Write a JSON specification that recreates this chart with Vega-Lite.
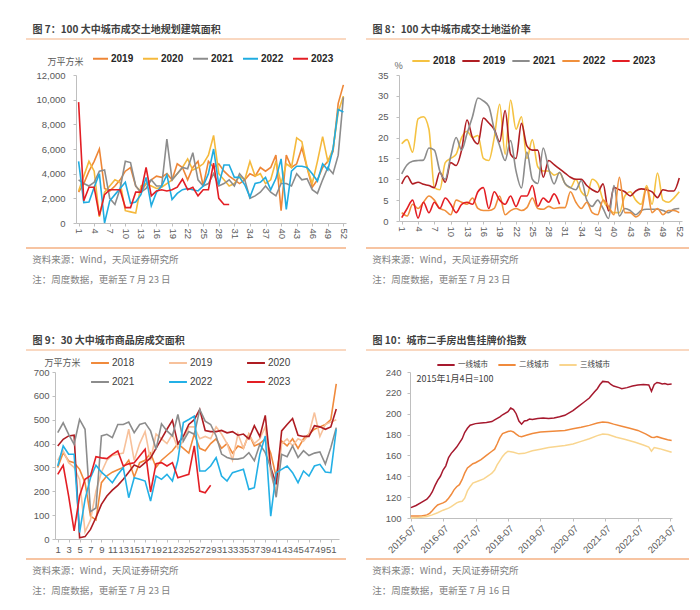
{
"$schema": "https://vega.github.io/schema/vega-lite/v6.json",
"background": "white",
"padding": {"left": 25, "top": 24, "right": 5, "bottom": 5},
"config": {
  "view": {"stroke": null},
  "font": "Liberation Sans",
  "axis": {"grid": false, "domainColor": "#BFBFBF", "tickColor": "#BFBFBF", "labelColor": "#595959", "labelFont": "Liberation Sans", "labelFontSize": 9.5, "titleFont": "Noto Sans CJK SC", "titleFontSize": 9, "titleFontWeight": "normal", "titleColor": "#595959", "tickSize": 3},
  "legend": {"padding": 0}
},
"resolve": {"scale": {"x": "independent", "y": "independent", "color": "independent"}, "axis": {"x": "independent", "y": "independent"}, "legend": {"color": "independent"}},
"datasets": {
"p1": [
{"w":1,"s":"2019","v":2500},{"w":2,"s":"2019","v":3200},{"w":3,"s":"2019","v":4200},{"w":4,"s":"2019","v":5000},{"w":5,"s":"2019","v":6000},{"w":6,"s":"2019","v":2800},{"w":7,"s":"2019","v":2600},{"w":8,"s":"2019","v":3000},{"w":9,"s":"2019","v":3500},{"w":10,"s":"2019","v":4200},
{"w":11,"s":"2019","v":4500},{"w":12,"s":"2019","v":3000},{"w":13,"s":"2019","v":2500},{"w":14,"s":"2019","v":3200},{"w":15,"s":"2019","v":3500},{"w":16,"s":"2019","v":3800},{"w":17,"s":"2019","v":3700},{"w":18,"s":"2019","v":4000},{"w":19,"s":"2019","v":3500},{"w":20,"s":"2019","v":4800},
{"w":21,"s":"2019","v":4500},{"w":22,"s":"2019","v":3500},{"w":23,"s":"2019","v":4500},{"w":24,"s":"2019","v":5000},{"w":25,"s":"2019","v":3000},{"w":26,"s":"2019","v":5000},{"w":27,"s":"2019","v":4500},{"w":28,"s":"2019","v":4800},{"w":29,"s":"2019","v":4200},{"w":30,"s":"2019","v":3800},
{"w":31,"s":"2019","v":3500},{"w":32,"s":"2019","v":3200},{"w":33,"s":"2019","v":3500},{"w":34,"s":"2019","v":4000},{"w":35,"s":"2019","v":3800},{"w":36,"s":"2019","v":4500},{"w":37,"s":"2019","v":4200},{"w":38,"s":"2019","v":4500},{"w":39,"s":"2019","v":5500},{"w":40,"s":"2019","v":1000},
{"w":41,"s":"2019","v":5500},{"w":42,"s":"2019","v":4500},{"w":43,"s":"2019","v":4800},{"w":44,"s":"2019","v":6100},{"w":45,"s":"2019","v":4500},{"w":46,"s":"2019","v":2900},{"w":47,"s":"2019","v":3500},{"w":48,"s":"2019","v":4500},{"w":49,"s":"2019","v":5000},{"w":50,"s":"2019","v":5800},
{"w":51,"s":"2019","v":9700},{"w":52,"s":"2019","v":11200},
{"w":1,"s":"2020","v":2600},{"w":2,"s":"2020","v":3800},{"w":3,"s":"2020","v":5000},{"w":4,"s":"2020","v":4200},{"w":5,"s":"2020","v":500},{"w":6,"s":"2020","v":2500},{"w":7,"s":"2020","v":3000},{"w":8,"s":"2020","v":3500},{"w":9,"s":"2020","v":3300},{"w":10,"s":"2020","v":1000},
{"w":11,"s":"2020","v":900},{"w":12,"s":"2020","v":800},{"w":13,"s":"2020","v":3000},{"w":14,"s":"2020","v":3200},{"w":15,"s":"2020","v":3000},{"w":16,"s":"2020","v":2800},{"w":17,"s":"2020","v":2900},{"w":18,"s":"2020","v":3200},{"w":19,"s":"2020","v":3500},{"w":20,"s":"2020","v":4000},
{"w":21,"s":"2020","v":4500},{"w":22,"s":"2020","v":5200},{"w":23,"s":"2020","v":4300},{"w":24,"s":"2020","v":4500},{"w":25,"s":"2020","v":4800},{"w":26,"s":"2020","v":5500},{"w":27,"s":"2020","v":7100},{"w":28,"s":"2020","v":4000},{"w":29,"s":"2020","v":3500},{"w":30,"s":"2020","v":3000},
{"w":31,"s":"2020","v":3200},{"w":32,"s":"2020","v":3800},{"w":33,"s":"2020","v":3500},{"w":34,"s":"2020","v":5000},{"w":35,"s":"2020","v":3800},{"w":36,"s":"2020","v":4000},{"w":37,"s":"2020","v":3200},{"w":38,"s":"2020","v":3500},{"w":39,"s":"2020","v":5000},{"w":40,"s":"2020","v":3200},
{"w":41,"s":"2020","v":4800},{"w":42,"s":"2020","v":4500},{"w":43,"s":"2020","v":6900},{"w":44,"s":"2020","v":6600},{"w":45,"s":"2020","v":4500},{"w":46,"s":"2020","v":3200},{"w":47,"s":"2020","v":5000},{"w":48,"s":"2020","v":7000},{"w":49,"s":"2020","v":5000},{"w":50,"s":"2020","v":6000},
{"w":51,"s":"2020","v":9000},{"w":52,"s":"2020","v":10300},
{"w":1,"s":"2021","v":3500},{"w":2,"s":"2021","v":3200},{"w":3,"s":"2021","v":3000},{"w":4,"s":"2021","v":3300},{"w":5,"s":"2021","v":4200},{"w":6,"s":"2021","v":4300},{"w":7,"s":"2021","v":2000},{"w":8,"s":"2021","v":1500},{"w":9,"s":"2021","v":2800},{"w":10,"s":"2021","v":5000},
{"w":11,"s":"2021","v":4900},{"w":12,"s":"2021","v":3000},{"w":13,"s":"2021","v":2500},{"w":14,"s":"2021","v":2800},{"w":15,"s":"2021","v":3500},{"w":16,"s":"2021","v":3000},{"w":17,"s":"2021","v":3000},{"w":18,"s":"2021","v":6800},{"w":19,"s":"2021","v":3500},{"w":20,"s":"2021","v":4000},
{"w":21,"s":"2021","v":4500},{"w":22,"s":"2021","v":4400},{"w":23,"s":"2021","v":5700},{"w":24,"s":"2021","v":3500},{"w":25,"s":"2021","v":3000},{"w":26,"s":"2021","v":3200},{"w":27,"s":"2021","v":4000},{"w":28,"s":"2021","v":3000},{"w":29,"s":"2021","v":3200},{"w":30,"s":"2021","v":3500},
{"w":31,"s":"2021","v":3000},{"w":32,"s":"2021","v":4000},{"w":33,"s":"2021","v":3500},{"w":34,"s":"2021","v":2000},{"w":35,"s":"2021","v":2200},{"w":36,"s":"2021","v":2500},{"w":37,"s":"2021","v":3000},{"w":38,"s":"2021","v":2500},{"w":39,"s":"2021","v":2200},{"w":40,"s":"2021","v":3200},
{"w":41,"s":"2021","v":3200},{"w":42,"s":"2021","v":3000},{"w":43,"s":"2021","v":4000},{"w":44,"s":"2021","v":3500},{"w":45,"s":"2021","v":3600},{"w":46,"s":"2021","v":2700},{"w":47,"s":"2021","v":2400},{"w":48,"s":"2021","v":3500},{"w":49,"s":"2021","v":4500},{"w":50,"s":"2021","v":4000},
{"w":51,"s":"2021","v":5500},{"w":52,"s":"2021","v":10200},
{"w":1,"s":"2022","v":5000},{"w":2,"s":"2022","v":1650},{"w":3,"s":"2022","v":1700},{"w":4,"s":"2022","v":2900},{"w":5,"s":"2022","v":4000},{"w":6,"s":"2022","v":0},{"w":7,"s":"2022","v":1800},{"w":8,"s":"2022","v":2300},{"w":9,"s":"2022","v":2800},{"w":10,"s":"2022","v":3300},
{"w":11,"s":"2022","v":1600},{"w":12,"s":"2022","v":1700},{"w":13,"s":"2022","v":2300},{"w":14,"s":"2022","v":3700},{"w":15,"s":"2022","v":1400},{"w":16,"s":"2022","v":2500},{"w":17,"s":"2022","v":3000},{"w":18,"s":"2022","v":3900},{"w":19,"s":"2022","v":1900},{"w":20,"s":"2022","v":2400},
{"w":21,"s":"2022","v":2700},{"w":22,"s":"2022","v":2800},{"w":23,"s":"2022","v":2700},{"w":24,"s":"2022","v":2600},{"w":25,"s":"2022","v":3000},{"w":26,"s":"2022","v":4000},{"w":27,"s":"2022","v":6000},{"w":28,"s":"2022","v":3100},{"w":29,"s":"2022","v":4700},{"w":30,"s":"2022","v":4700},
{"w":31,"s":"2022","v":3700},{"w":32,"s":"2022","v":3700},{"w":33,"s":"2022","v":3100},{"w":34,"s":"2022","v":2100},{"w":35,"s":"2022","v":3200},{"w":36,"s":"2022","v":3300},{"w":37,"s":"2022","v":3700},{"w":38,"s":"2022","v":2700},{"w":39,"s":"2022","v":3600},{"w":40,"s":"2022","v":5200},
{"w":41,"s":"2022","v":1100},{"w":42,"s":"2022","v":4200},{"w":43,"s":"2022","v":4600},{"w":44,"s":"2022","v":4600},{"w":45,"s":"2022","v":4500},{"w":46,"s":"2022","v":4000},{"w":47,"s":"2022","v":3400},{"w":48,"s":"2022","v":4800},{"w":49,"s":"2022","v":4300},{"w":50,"s":"2022","v":6000},
{"w":51,"s":"2022","v":9200},{"w":52,"s":"2022","v":9000},
{"w":1,"s":"2023","v":9800},{"w":2,"s":"2023","v":1800},{"w":3,"s":"2023","v":2900},{"w":4,"s":"2023","v":2900},{"w":5,"s":"2023","v":600},{"w":6,"s":"2023","v":2300},{"w":7,"s":"2023","v":2700},{"w":8,"s":"2023","v":2700},{"w":9,"s":"2023","v":2700},{"w":10,"s":"2023","v":1250},
{"w":11,"s":"2023","v":1250},{"w":12,"s":"2023","v":2500},{"w":13,"s":"2023","v":2500},{"w":14,"s":"2023","v":4500},{"w":15,"s":"2023","v":2200},{"w":16,"s":"2023","v":2600},{"w":17,"s":"2023","v":2700},{"w":18,"s":"2023","v":2600},{"w":19,"s":"2023","v":2700},{"w":20,"s":"2023","v":2900},
{"w":21,"s":"2023","v":3550},{"w":22,"s":"2023","v":2700},{"w":23,"s":"2023","v":2900},{"w":24,"s":"2023","v":2200},{"w":25,"s":"2023","v":2700},{"w":26,"s":"2023","v":2700},{"w":27,"s":"2023","v":4850},{"w":28,"s":"2023","v":2000},{"w":29,"s":"2023","v":1500},{"w":30,"s":"2023","v":1500}
],
"p2": [
{"w":1,"s":"2018","v":18.5},{"w":2,"s":"2018","v":19.5},{"w":3,"s":"2018","v":16.5},{"w":4,"s":"2018","v":24.5},{"w":5,"s":"2018","v":25},{"w":6,"s":"2018","v":22},{"w":7,"s":"2018","v":8},{"w":8,"s":"2018","v":7.5},{"w":9,"s":"2018","v":14},{"w":10,"s":"2018","v":15},
{"w":11,"s":"2018","v":16},{"w":12,"s":"2018","v":20},{"w":13,"s":"2018","v":21.5},{"w":14,"s":"2018","v":20},{"w":15,"s":"2018","v":20.5},{"w":16,"s":"2018","v":15},{"w":17,"s":"2018","v":14.5},{"w":18,"s":"2018","v":20},{"w":19,"s":"2018","v":28},{"w":20,"s":"2018","v":16},
{"w":21,"s":"2018","v":29},{"w":22,"s":"2018","v":22},{"w":23,"s":"2018","v":25},{"w":24,"s":"2018","v":15},{"w":25,"s":"2018","v":19.5},{"w":26,"s":"2018","v":13},{"w":27,"s":"2018","v":12},{"w":28,"s":"2018","v":12},{"w":29,"s":"2018","v":11},{"w":30,"s":"2018","v":11.5},
{"w":31,"s":"2018","v":9},{"w":32,"s":"2018","v":8},{"w":33,"s":"2018","v":10},{"w":34,"s":"2018","v":7},{"w":35,"s":"2018","v":6},{"w":36,"s":"2018","v":10},{"w":37,"s":"2018","v":9},{"w":38,"s":"2018","v":5},{"w":39,"s":"2018","v":3},{"w":40,"s":"2018","v":2},
{"w":41,"s":"2018","v":2},{"w":42,"s":"2018","v":6},{"w":43,"s":"2018","v":7},{"w":44,"s":"2018","v":5},{"w":45,"s":"2018","v":4},{"w":46,"s":"2018","v":8.5},{"w":47,"s":"2018","v":4},{"w":48,"s":"2018","v":11.5},{"w":49,"s":"2018","v":5},{"w":50,"s":"2018","v":4.5},
{"w":51,"s":"2018","v":5.5},{"w":52,"s":"2018","v":7},
{"w":1,"s":"2019","v":8.9},{"w":2,"s":"2019","v":10.8},{"w":3,"s":"2019","v":8.9},{"w":4,"s":"2019","v":9.3},{"w":5,"s":"2019","v":8.8},{"w":6,"s":"2019","v":8.5},{"w":7,"s":"2019","v":8},{"w":8,"s":"2019","v":11.7},{"w":9,"s":"2019","v":9.3},{"w":10,"s":"2019","v":14},
{"w":11,"s":"2019","v":13.3},{"w":12,"s":"2019","v":17},{"w":13,"s":"2019","v":24.2},{"w":14,"s":"2019","v":20},{"w":15,"s":"2019","v":18.5},{"w":16,"s":"2019","v":24.7},{"w":17,"s":"2019","v":23.5},{"w":18,"s":"2019","v":22},{"w":19,"s":"2019","v":19},{"w":20,"s":"2019","v":26.5},
{"w":21,"s":"2019","v":16},{"w":22,"s":"2019","v":15},{"w":23,"s":"2019","v":23.4},{"w":24,"s":"2019","v":18},{"w":25,"s":"2019","v":17},{"w":26,"s":"2019","v":17},{"w":27,"s":"2019","v":10.5},{"w":28,"s":"2019","v":14.5},{"w":29,"s":"2019","v":13.5},{"w":30,"s":"2019","v":12.5},
{"w":31,"s":"2019","v":11.5},{"w":32,"s":"2019","v":10.5},{"w":33,"s":"2019","v":10},{"w":34,"s":"2019","v":10},{"w":35,"s":"2019","v":8.5},{"w":36,"s":"2019","v":7.5},{"w":37,"s":"2019","v":6.9},{"w":38,"s":"2019","v":8.9},{"w":39,"s":"2019","v":2.4},{"w":40,"s":"2019","v":8},
{"w":41,"s":"2019","v":7.5},{"w":42,"s":"2019","v":7},{"w":43,"s":"2019","v":6},{"w":44,"s":"2019","v":7.2},{"w":45,"s":"2019","v":7.7},{"w":46,"s":"2019","v":7.5},{"w":47,"s":"2019","v":7},{"w":48,"s":"2019","v":5.6},{"w":49,"s":"2019","v":7.5},{"w":50,"s":"2019","v":7.2},
{"w":51,"s":"2019","v":7.2},{"w":52,"s":"2019","v":10.3},
{"w":1,"s":"2021","v":11.3},{"w":2,"s":"2021","v":13.5},{"w":3,"s":"2021","v":14.3},{"w":4,"s":"2021","v":14.5},{"w":5,"s":"2021","v":14.6},{"w":6,"s":"2021","v":17.5},{"w":7,"s":"2021","v":17},{"w":8,"s":"2021","v":12},{"w":9,"s":"2021","v":10},{"w":10,"s":"2021","v":15.5},
{"w":11,"s":"2021","v":20},{"w":12,"s":"2021","v":17},{"w":13,"s":"2021","v":21},{"w":14,"s":"2021","v":25},{"w":15,"s":"2021","v":29.5},{"w":16,"s":"2021","v":28.8},{"w":17,"s":"2021","v":27.5},{"w":18,"s":"2021","v":22},{"w":19,"s":"2021","v":18},{"w":20,"s":"2021","v":14.5},
{"w":21,"s":"2021","v":19.3},{"w":22,"s":"2021","v":12},{"w":23,"s":"2021","v":7.9},{"w":24,"s":"2021","v":16.5},{"w":25,"s":"2021","v":10},{"w":26,"s":"2021","v":9},{"w":27,"s":"2021","v":17.5},{"w":28,"s":"2021","v":12.5},{"w":29,"s":"2021","v":8.9},{"w":30,"s":"2021","v":11.7},
{"w":31,"s":"2021","v":9},{"w":32,"s":"2021","v":8},{"w":33,"s":"2021","v":7.5},{"w":34,"s":"2021","v":9.7},{"w":35,"s":"2021","v":5},{"w":36,"s":"2021","v":3.5},{"w":37,"s":"2021","v":5},{"w":38,"s":"2021","v":3},{"w":39,"s":"2021","v":0.6},{"w":40,"s":"2021","v":8.5},
{"w":41,"s":"2021","v":1.2},{"w":42,"s":"2021","v":3},{"w":43,"s":"2021","v":2.5},{"w":44,"s":"2021","v":1.5},{"w":45,"s":"2021","v":2.5},{"w":46,"s":"2021","v":2.8},{"w":47,"s":"2021","v":2.8},{"w":48,"s":"2021","v":2.8},{"w":49,"s":"2021","v":2.5},{"w":50,"s":"2021","v":2},
{"w":51,"s":"2021","v":2.8},{"w":52,"s":"2021","v":3},
{"w":1,"s":"2022","v":2},{"w":2,"s":"2022","v":1.2},{"w":3,"s":"2022","v":4},{"w":4,"s":"2022","v":3},{"w":5,"s":"2022","v":4.5},{"w":6,"s":"2022","v":6},{"w":7,"s":"2022","v":5},{"w":8,"s":"2022","v":3},{"w":9,"s":"2022","v":2.5},{"w":10,"s":"2022","v":1.5},
{"w":11,"s":"2022","v":5},{"w":12,"s":"2022","v":4.5},{"w":13,"s":"2022","v":4},{"w":14,"s":"2022","v":5.5},{"w":15,"s":"2022","v":3},{"w":16,"s":"2022","v":2.5},{"w":17,"s":"2022","v":2.5},{"w":18,"s":"2022","v":3},{"w":19,"s":"2022","v":6},{"w":20,"s":"2022","v":1.5},
{"w":21,"s":"2022","v":2.5},{"w":22,"s":"2022","v":3},{"w":23,"s":"2022","v":2.5},{"w":24,"s":"2022","v":3.2},{"w":25,"s":"2022","v":5.5},{"w":26,"s":"2022","v":3},{"w":27,"s":"2022","v":2.8},{"w":28,"s":"2022","v":3.5},{"w":29,"s":"2022","v":3},{"w":30,"s":"2022","v":3.2},
{"w":31,"s":"2022","v":3.2},{"w":32,"s":"2022","v":7},{"w":33,"s":"2022","v":4.5},{"w":34,"s":"2022","v":3},{"w":35,"s":"2022","v":4.5},{"w":36,"s":"2022","v":2},{"w":37,"s":"2022","v":1.5},{"w":38,"s":"2022","v":5},{"w":39,"s":"2022","v":3.5},{"w":40,"s":"2022","v":1.5},
{"w":41,"s":"2022","v":10.5},{"w":42,"s":"2022","v":2},{"w":43,"s":"2022","v":2},{"w":44,"s":"2022","v":1},{"w":45,"s":"2022","v":2.2},{"w":46,"s":"2022","v":8},{"w":47,"s":"2022","v":2},{"w":48,"s":"2022","v":3},{"w":49,"s":"2022","v":1.5},{"w":50,"s":"2022","v":2.5},
{"w":51,"s":"2022","v":2.5},{"w":52,"s":"2022","v":2},
{"w":1,"s":"2023","v":0.8},{"w":2,"s":"2023","v":3},{"w":3,"s":"2023","v":5},{"w":4,"s":"2023","v":0.7},{"w":5,"s":"2023","v":4.5},{"w":6,"s":"2023","v":2},{"w":7,"s":"2023","v":4.5},{"w":8,"s":"2023","v":3},{"w":9,"s":"2023","v":5.5},{"w":10,"s":"2023","v":4},
{"w":11,"s":"2023","v":2},{"w":12,"s":"2023","v":4},{"w":13,"s":"2023","v":4.5},{"w":14,"s":"2023","v":4},{"w":15,"s":"2023","v":7},{"w":16,"s":"2023","v":8},{"w":17,"s":"2023","v":3},{"w":18,"s":"2023","v":7},{"w":19,"s":"2023","v":5},{"w":20,"s":"2023","v":4},
{"w":21,"s":"2023","v":6},{"w":22,"s":"2023","v":3.5},{"w":23,"s":"2023","v":6},{"w":24,"s":"2023","v":6},{"w":25,"s":"2023","v":8.5},{"w":26,"s":"2023","v":3.5},{"w":27,"s":"2023","v":5.5},{"w":28,"s":"2023","v":4.5},{"w":29,"s":"2023","v":6.5},{"w":30,"s":"2023","v":4}
],
"p3": [
{"w":1,"s":"2018","v":300},{"w":2,"s":"2018","v":362},{"w":3,"s":"2018","v":327},{"w":4,"s":"2018","v":320},{"w":5,"s":"2018","v":292},{"w":6,"s":"2018","v":236},{"w":7,"s":"2018","v":96},{"w":8,"s":"2018","v":80},{"w":9,"s":"2018","v":236},{"w":10,"s":"2018","v":265},
{"w":11,"s":"2018","v":280},{"w":12,"s":"2018","v":290},{"w":13,"s":"2018","v":300},{"w":14,"s":"2018","v":330},{"w":15,"s":"2018","v":260},{"w":16,"s":"2018","v":320},{"w":17,"s":"2018","v":330},{"w":18,"s":"2018","v":360},{"w":19,"s":"2018","v":300},{"w":20,"s":"2018","v":330},
{"w":21,"s":"2018","v":350},{"w":22,"s":"2018","v":370},{"w":23,"s":"2018","v":400},{"w":24,"s":"2018","v":380},{"w":25,"s":"2018","v":360},{"w":26,"s":"2018","v":440},{"w":27,"s":"2018","v":380},{"w":28,"s":"2018","v":370},{"w":29,"s":"2018","v":400},{"w":30,"s":"2018","v":420},
{"w":31,"s":"2018","v":380},{"w":32,"s":"2018","v":400},{"w":33,"s":"2018","v":360},{"w":34,"s":"2018","v":390},{"w":35,"s":"2018","v":380},{"w":36,"s":"2018","v":440},{"w":37,"s":"2018","v":390},{"w":38,"s":"2018","v":400},{"w":39,"s":"2018","v":420},{"w":40,"s":"2018","v":360},
{"w":41,"s":"2018","v":260},{"w":42,"s":"2018","v":410},{"w":43,"s":"2018","v":390},{"w":44,"s":"2018","v":420},{"w":45,"s":"2018","v":380},{"w":46,"s":"2018","v":420},{"w":47,"s":"2018","v":440},{"w":48,"s":"2018","v":460},{"w":49,"s":"2018","v":470},{"w":50,"s":"2018","v":480},
{"w":51,"s":"2018","v":500},{"w":52,"s":"2018","v":650},
{"w":1,"s":"2019","v":330},{"w":2,"s":"2019","v":370},{"w":3,"s":"2019","v":320},{"w":4,"s":"2019","v":300},{"w":5,"s":"2019","v":250},{"w":6,"s":"2019","v":30},{"w":7,"s":"2019","v":80},{"w":8,"s":"2019","v":200},{"w":9,"s":"2019","v":280},{"w":10,"s":"2019","v":330},
{"w":11,"s":"2019","v":350},{"w":12,"s":"2019","v":355},{"w":13,"s":"2019","v":360},{"w":14,"s":"2019","v":460},{"w":15,"s":"2019","v":330},{"w":16,"s":"2019","v":400},{"w":17,"s":"2019","v":450},{"w":18,"s":"2019","v":330},{"w":19,"s":"2019","v":440},{"w":20,"s":"2019","v":420},
{"w":21,"s":"2019","v":400},{"w":22,"s":"2019","v":440},{"w":23,"s":"2019","v":380},{"w":24,"s":"2019","v":410},{"w":25,"s":"2019","v":470},{"w":26,"s":"2019","v":470},{"w":27,"s":"2019","v":420},{"w":28,"s":"2019","v":430},{"w":29,"s":"2019","v":420},{"w":30,"s":"2019","v":470},
{"w":31,"s":"2019","v":440},{"w":32,"s":"2019","v":400},{"w":33,"s":"2019","v":330},{"w":34,"s":"2019","v":440},{"w":35,"s":"2019","v":380},{"w":36,"s":"2019","v":440},{"w":37,"s":"2019","v":400},{"w":38,"s":"2019","v":420},{"w":39,"s":"2019","v":470},{"w":40,"s":"2019","v":270},
{"w":41,"s":"2019","v":200},{"w":42,"s":"2019","v":400},{"w":43,"s":"2019","v":420},{"w":44,"s":"2019","v":390},{"w":45,"s":"2019","v":420},{"w":46,"s":"2019","v":410},{"w":47,"s":"2019","v":440},{"w":48,"s":"2019","v":530},{"w":49,"s":"2019","v":430},{"w":50,"s":"2019","v":480},
{"w":51,"s":"2019","v":490},{"w":52,"s":"2019","v":500},
{"w":1,"s":"2020","v":390},{"w":2,"s":"2020","v":418},{"w":3,"s":"2020","v":432},{"w":4,"s":"2020","v":435},{"w":5,"s":"2020","v":5},{"w":6,"s":"2020","v":10},{"w":7,"s":"2020","v":40},{"w":8,"s":"2020","v":90},{"w":9,"s":"2020","v":145},{"w":10,"s":"2020","v":180},
{"w":11,"s":"2020","v":205},{"w":12,"s":"2020","v":225},{"w":13,"s":"2020","v":250},{"w":14,"s":"2020","v":280},{"w":15,"s":"2020","v":310},{"w":16,"s":"2020","v":300},{"w":17,"s":"2020","v":320},{"w":18,"s":"2020","v":340},{"w":19,"s":"2020","v":380},{"w":20,"s":"2020","v":420},
{"w":21,"s":"2020","v":460},{"w":22,"s":"2020","v":497},{"w":23,"s":"2020","v":400},{"w":24,"s":"2020","v":430},{"w":25,"s":"2020","v":480},{"w":26,"s":"2020","v":500},{"w":27,"s":"2020","v":543},{"w":28,"s":"2020","v":455},{"w":29,"s":"2020","v":450},{"w":30,"s":"2020","v":450},
{"w":31,"s":"2020","v":455},{"w":32,"s":"2020","v":445},{"w":33,"s":"2020","v":450},{"w":34,"s":"2020","v":435},{"w":35,"s":"2020","v":440},{"w":36,"s":"2020","v":420},{"w":37,"s":"2020","v":475},{"w":38,"s":"2020","v":430},{"w":39,"s":"2020","v":518},{"w":40,"s":"2020","v":300},
{"w":41,"s":"2020","v":229},{"w":42,"s":"2020","v":453},{"w":43,"s":"2020","v":480},{"w":44,"s":"2020","v":505},{"w":45,"s":"2020","v":435},{"w":46,"s":"2020","v":430},{"w":47,"s":"2020","v":430},{"w":48,"s":"2020","v":475},{"w":49,"s":"2020","v":470},{"w":50,"s":"2020","v":460},
{"w":51,"s":"2020","v":470},{"w":52,"s":"2020","v":545},
{"w":1,"s":"2021","v":446},{"w":2,"s":"2021","v":487},{"w":3,"s":"2021","v":439},{"w":4,"s":"2021","v":397},{"w":5,"s":"2021","v":501},{"w":6,"s":"2021","v":460},{"w":7,"s":"2021","v":115},{"w":8,"s":"2021","v":130},{"w":9,"s":"2021","v":432},{"w":10,"s":"2021","v":439},
{"w":11,"s":"2021","v":425},{"w":12,"s":"2021","v":480},{"w":13,"s":"2021","v":480},{"w":14,"s":"2021","v":490},{"w":15,"s":"2021","v":446},{"w":16,"s":"2021","v":480},{"w":17,"s":"2021","v":487},{"w":18,"s":"2021","v":453},{"w":19,"s":"2021","v":376},{"w":20,"s":"2021","v":483},
{"w":21,"s":"2021","v":453},{"w":22,"s":"2021","v":432},{"w":23,"s":"2021","v":522},{"w":24,"s":"2021","v":411},{"w":25,"s":"2021","v":450},{"w":26,"s":"2021","v":439},{"w":27,"s":"2021","v":543},{"w":28,"s":"2021","v":494},{"w":29,"s":"2021","v":480},{"w":30,"s":"2021","v":432},
{"w":31,"s":"2021","v":356},{"w":32,"s":"2021","v":342},{"w":33,"s":"2021","v":335},{"w":34,"s":"2021","v":335},{"w":35,"s":"2021","v":340},{"w":36,"s":"2021","v":362},{"w":37,"s":"2021","v":328},{"w":38,"s":"2021","v":397},{"w":39,"s":"2021","v":362},{"w":40,"s":"2021","v":300},
{"w":41,"s":"2021","v":175},{"w":42,"s":"2021","v":355},{"w":43,"s":"2021","v":345},{"w":44,"s":"2021","v":390},{"w":45,"s":"2021","v":342},{"w":46,"s":"2021","v":370},{"w":47,"s":"2021","v":350},{"w":48,"s":"2021","v":360},{"w":49,"s":"2021","v":365},{"w":50,"s":"2021","v":314},
{"w":51,"s":"2021","v":383},{"w":52,"s":"2021","v":467},
{"w":1,"s":"2022","v":306},{"w":2,"s":"2022","v":390},{"w":3,"s":"2022","v":355},{"w":4,"s":"2022","v":355},{"w":5,"s":"2022","v":27},{"w":6,"s":"2022","v":166},{"w":7,"s":"2022","v":257},{"w":8,"s":"2022","v":309},{"w":9,"s":"2022","v":280},{"w":10,"s":"2022","v":260},
{"w":11,"s":"2022","v":236},{"w":12,"s":"2022","v":270},{"w":13,"s":"2022","v":299},{"w":14,"s":"2022","v":173},{"w":15,"s":"2022","v":257},{"w":16,"s":"2022","v":250},{"w":17,"s":"2022","v":243},{"w":18,"s":"2022","v":159},{"w":19,"s":"2022","v":264},{"w":20,"s":"2022","v":250},
{"w":21,"s":"2022","v":271},{"w":22,"s":"2022","v":243},{"w":23,"s":"2022","v":330},{"w":24,"s":"2022","v":488},{"w":25,"s":"2022","v":501},{"w":26,"s":"2022","v":515},{"w":27,"s":"2022","v":285},{"w":28,"s":"2022","v":285},{"w":29,"s":"2022","v":306},{"w":30,"s":"2022","v":341},
{"w":31,"s":"2022","v":264},{"w":32,"s":"2022","v":243},{"w":33,"s":"2022","v":278},{"w":34,"s":"2022","v":285},{"w":35,"s":"2022","v":292},{"w":36,"s":"2022","v":208},{"w":37,"s":"2022","v":215},{"w":38,"s":"2022","v":355},{"w":39,"s":"2022","v":432},{"w":40,"s":"2022","v":96},
{"w":41,"s":"2022","v":278},{"w":42,"s":"2022","v":292},{"w":43,"s":"2022","v":306},{"w":44,"s":"2022","v":278},{"w":45,"s":"2022","v":236},{"w":46,"s":"2022","v":285},{"w":47,"s":"2022","v":264},{"w":48,"s":"2022","v":306},{"w":49,"s":"2022","v":313},{"w":50,"s":"2022","v":281},
{"w":51,"s":"2022","v":278},{"w":52,"s":"2022","v":460},
{"w":1,"s":"2023","v":271},{"w":2,"s":"2023","v":309},{"w":3,"s":"2023","v":180},{"w":4,"s":"2023","v":34},{"w":5,"s":"2023","v":180},{"w":6,"s":"2023","v":250},{"w":7,"s":"2023","v":265},{"w":8,"s":"2023","v":345},{"w":9,"s":"2023","v":340},{"w":10,"s":"2023","v":337},
{"w":11,"s":"2023","v":355},{"w":12,"s":"2023","v":369},{"w":13,"s":"2023","v":306},{"w":14,"s":"2023","v":315},{"w":15,"s":"2023","v":320},{"w":16,"s":"2023","v":348},{"w":17,"s":"2023","v":376},{"w":18,"s":"2023","v":197},{"w":19,"s":"2023","v":316},{"w":20,"s":"2023","v":320},
{"w":21,"s":"2023","v":306},{"w":22,"s":"2023","v":320},{"w":23,"s":"2023","v":257},{"w":24,"s":"2023","v":264},{"w":25,"s":"2023","v":271},{"w":26,"s":"2023","v":390},{"w":27,"s":"2023","v":201},{"w":28,"s":"2023","v":194},{"w":29,"s":"2023","v":225}
],
"p4": [
{"d":"2015-07-05","s":"一线城市","v":110},{"d":"2015-09-01","s":"一线城市","v":112},{"d":"2015-11-01","s":"一线城市","v":115},{"d":"2016-01-01","s":"一线城市","v":118},{"d":"2016-02-01","s":"一线城市","v":121},{"d":"2016-03-01","s":"一线城市","v":125},{"d":"2016-04-01","s":"一线城市","v":131},{"d":"2016-05-01","s":"一线城市","v":136},{"d":"2016-06-01","s":"一线城市","v":140},{"d":"2016-07-01","s":"一线城市","v":146},
{"d":"2016-08-01","s":"一线城市","v":150},{"d":"2016-09-01","s":"一线城市","v":158},{"d":"2016-10-01","s":"一线城市","v":162},{"d":"2016-11-01","s":"一线城市","v":165},{"d":"2016-12-01","s":"一线城市","v":168},{"d":"2017-01-01","s":"一线城市","v":172},{"d":"2017-02-01","s":"一线城市","v":176},{"d":"2017-03-01","s":"一线城市","v":182},{"d":"2017-04-01","s":"一线城市","v":186},{"d":"2017-05-01","s":"一线城市","v":189},
{"d":"2017-07-01","s":"一线城市","v":190.5},{"d":"2017-09-01","s":"一线城市","v":191},{"d":"2017-11-01","s":"一线城市","v":191.5},{"d":"2018-01-01","s":"一线城市","v":192.5},{"d":"2018-02-01","s":"一线城市","v":194},{"d":"2018-04-01","s":"一线城市","v":197},{"d":"2018-05-01","s":"一线城市","v":199},{"d":"2018-07-01","s":"一线城市","v":202},{"d":"2018-08-01","s":"一线城市","v":205.5},{"d":"2018-09-01","s":"一线城市","v":204},
{"d":"2018-10-01","s":"一线城市","v":200},{"d":"2018-11-01","s":"一线城市","v":193},{"d":"2018-12-01","s":"一线城市","v":190},{"d":"2019-01-01","s":"一线城市","v":193},{"d":"2019-02-01","s":"一线城市","v":193.5},{"d":"2019-03-01","s":"一线城市","v":195},{"d":"2019-04-01","s":"一线城市","v":194.5},{"d":"2019-06-01","s":"一线城市","v":195.5},{"d":"2019-08-01","s":"一线城市","v":196},{"d":"2019-10-01","s":"一线城市","v":195.5},
{"d":"2019-12-01","s":"一线城市","v":196},{"d":"2020-02-01","s":"一线城市","v":197},{"d":"2020-04-01","s":"一线城市","v":198.5},{"d":"2020-07-01","s":"一线城市","v":203},{"d":"2020-09-01","s":"一线城市","v":207},{"d":"2020-11-01","s":"一线城市","v":211},{"d":"2021-01-01","s":"一线城市","v":215},{"d":"2021-03-01","s":"一线城市","v":221},{"d":"2021-04-01","s":"一线城市","v":224},{"d":"2021-05-01","s":"一线城市","v":228},
{"d":"2021-06-01","s":"一线城市","v":231},{"d":"2021-08-01","s":"一线城市","v":230.5},{"d":"2021-09-01","s":"一线城市","v":228},{"d":"2021-10-01","s":"一线城市","v":226.5},{"d":"2021-12-01","s":"一线城市","v":225},{"d":"2022-01-01","s":"一线城市","v":224},{"d":"2022-03-01","s":"一线城市","v":225},{"d":"2022-05-01","s":"一线城市","v":226.5},{"d":"2022-07-01","s":"一线城市","v":227.5},{"d":"2022-09-01","s":"一线城市","v":228},
{"d":"2022-11-01","s":"一线城市","v":227.5},{"d":"2022-12-01","s":"一线城市","v":221.5},{"d":"2023-01-01","s":"一线城市","v":228},{"d":"2023-02-01","s":"一线城市","v":230},{"d":"2023-03-01","s":"一线城市","v":229.5},{"d":"2023-04-01","s":"一线城市","v":228.5},{"d":"2023-05-01","s":"一线城市","v":229},{"d":"2023-06-01","s":"一线城市","v":228},{"d":"2023-07-16","s":"一线城市","v":228.5},
{"d":"2015-07-05","s":"二线城市","v":102},{"d":"2015-09-01","s":"二线城市","v":101.8},{"d":"2015-11-01","s":"二线城市","v":102},{"d":"2016-01-01","s":"二线城市","v":103},{"d":"2016-02-01","s":"二线城市","v":104.5},{"d":"2016-03-01","s":"二线城市","v":107},{"d":"2016-04-01","s":"二线城市","v":110},{"d":"2016-05-01","s":"二线城市","v":112.5},{"d":"2016-06-01","s":"二线城市","v":113.5},{"d":"2016-07-01","s":"二线城市","v":114.5},
{"d":"2016-08-01","s":"二线城市","v":116},{"d":"2016-09-01","s":"二线城市","v":119},{"d":"2016-10-01","s":"二线城市","v":122.5},{"d":"2016-11-01","s":"二线城市","v":127},{"d":"2016-12-01","s":"二线城市","v":130},{"d":"2017-01-01","s":"二线城市","v":132},{"d":"2017-02-01","s":"二线城市","v":137},{"d":"2017-03-01","s":"二线城市","v":143},{"d":"2017-04-01","s":"二线城市","v":148},{"d":"2017-05-01","s":"二线城市","v":150},
{"d":"2017-06-01","s":"二线城市","v":152},{"d":"2017-07-01","s":"二线城市","v":153},{"d":"2017-09-01","s":"二线城市","v":156},{"d":"2017-11-01","s":"二线城市","v":160},{"d":"2018-01-01","s":"二线城市","v":164},{"d":"2018-02-01","s":"二线城市","v":166},{"d":"2018-03-01","s":"二线城市","v":171},{"d":"2018-04-01","s":"二线城市","v":177},{"d":"2018-05-01","s":"二线城市","v":181},{"d":"2018-07-01","s":"二线城市","v":183},
{"d":"2018-08-01","s":"二线城市","v":183.5},{"d":"2018-09-01","s":"二线城市","v":182.5},{"d":"2018-10-01","s":"二线城市","v":180.5},{"d":"2018-11-01","s":"二线城市","v":178.5},{"d":"2018-12-01","s":"二线城市","v":178},{"d":"2019-02-01","s":"二线城市","v":179.5},{"d":"2019-04-01","s":"二线城市","v":181},{"d":"2019-07-01","s":"二线城市","v":182.5},{"d":"2019-10-01","s":"二线城市","v":183},{"d":"2020-01-01","s":"二线城市","v":183.5},
{"d":"2020-04-01","s":"二线城市","v":184},{"d":"2020-07-01","s":"二线城市","v":185.5},{"d":"2020-10-01","s":"二线城市","v":187},{"d":"2021-01-01","s":"二线城市","v":188.8},{"d":"2021-04-01","s":"二线城市","v":191},{"d":"2021-06-01","s":"二线城市","v":192},{"d":"2021-08-01","s":"二线城市","v":191.5},{"d":"2021-10-01","s":"二线城市","v":190},{"d":"2022-01-01","s":"二线城市","v":188},{"d":"2022-04-01","s":"二线城市","v":186},
{"d":"2022-07-01","s":"二线城市","v":184},{"d":"2022-10-01","s":"二线城市","v":180.5},{"d":"2022-12-01","s":"二线城市","v":177.5},{"d":"2023-01-01","s":"二线城市","v":177.2},{"d":"2023-02-01","s":"二线城市","v":178},{"d":"2023-04-01","s":"二线城市","v":176.5},{"d":"2023-06-01","s":"二线城市","v":175},{"d":"2023-07-16","s":"二线城市","v":174.3},
{"d":"2015-07-05","s":"三线城市","v":100},{"d":"2015-10-01","s":"三线城市","v":100.5},{"d":"2016-01-01","s":"三线城市","v":101.5},{"d":"2016-03-01","s":"三线城市","v":103},{"d":"2016-05-01","s":"三线城市","v":105},{"d":"2016-07-01","s":"三线城市","v":107.5},{"d":"2016-09-01","s":"三线城市","v":109.5},{"d":"2016-10-01","s":"三线城市","v":111},{"d":"2016-12-01","s":"三线城市","v":114.5},{"d":"2017-01-01","s":"三线城市","v":115.5},
{"d":"2017-02-01","s":"三线城市","v":116},{"d":"2017-03-01","s":"三线城市","v":119},{"d":"2017-04-01","s":"三线城市","v":126},{"d":"2017-05-01","s":"三线城市","v":130},{"d":"2017-06-01","s":"三线城市","v":133.5},{"d":"2017-08-01","s":"三线城市","v":135.5},{"d":"2017-10-01","s":"三线城市","v":137.5},{"d":"2017-12-01","s":"三线城市","v":141},{"d":"2018-01-01","s":"三线城市","v":143},{"d":"2018-02-01","s":"三线城市","v":146},
{"d":"2018-03-01","s":"三线城市","v":151},{"d":"2018-04-01","s":"三线城市","v":155},{"d":"2018-05-01","s":"三线城市","v":159},{"d":"2018-06-01","s":"三线城市","v":162},{"d":"2018-07-01","s":"三线城市","v":164},{"d":"2018-09-01","s":"三线城市","v":163},{"d":"2018-11-01","s":"三线城市","v":161.5},{"d":"2019-01-01","s":"三线城市","v":162},{"d":"2019-04-01","s":"三线城市","v":164.5},{"d":"2019-07-01","s":"三线城市","v":166},
{"d":"2019-10-01","s":"三线城市","v":167.5},{"d":"2020-01-01","s":"三线城市","v":168.5},{"d":"2020-04-01","s":"三线城市","v":169.5},{"d":"2020-07-01","s":"三线城市","v":171},{"d":"2020-10-01","s":"三线城市","v":173.5},{"d":"2021-01-01","s":"三线城市","v":176},{"d":"2021-04-01","s":"三线城市","v":179},{"d":"2021-06-01","s":"三线城市","v":180.6},{"d":"2021-08-01","s":"三线城市","v":180},{"d":"2021-11-01","s":"三线城市","v":177.4},
{"d":"2022-02-01","s":"三线城市","v":175.5},{"d":"2022-06-01","s":"三线城市","v":172.6},{"d":"2022-09-01","s":"三线城市","v":170},{"d":"2022-11-01","s":"三线城市","v":168},{"d":"2022-12-01","s":"三线城市","v":164},{"d":"2023-01-01","s":"三线城市","v":167.5},{"d":"2023-03-01","s":"三线城市","v":166.5},{"d":"2023-05-01","s":"三线城市","v":165},{"d":"2023-07-16","s":"三线城市","v":163}
]
},
"concat": [
{"width": 320, "height": 36,
 "title": {"text": "图 7：100 大中城市成交土地规划建筑面积", "anchor": "start", "dx": 7, "offset": 4, "fontSize": 10, "fontWeight": "bold", "color": "#404040", "font": "Noto Sans CJK SC"},
 "data": {"values": [{}]}, "mark": {"type": "rule", "color": "#F4B183", "strokeWidth": 1},
 "encoding": {"x": {"datum": 0, "type": "quantitative", "scale": {"domain": [0, 1], "nice": false, "zero": false}, "axis": null}, "x2": {"datum": 1}, "y": {"datum": 1, "type": "quantitative", "scale": {"domain": [0, 1]}, "axis": null}}},
{"width": 323, "height": 36,
 "title": {"text": "图 8：100 大中城市成交土地溢价率", "anchor": "start", "dx": 7, "offset": 4, "fontSize": 10, "fontWeight": "bold", "color": "#404040", "font": "Noto Sans CJK SC"},
 "data": {"values": [{}]}, "mark": {"type": "rule", "color": "#F4B183", "strokeWidth": 1},
 "encoding": {"x": {"datum": 0, "type": "quantitative", "scale": {"domain": [0, 1], "nice": false, "zero": false}, "axis": null}, "x2": {"datum": 1}, "y": {"datum": 1, "type": "quantitative", "scale": {"domain": [0, 1]}, "axis": null}}},
{"width": 320, "height": 148,
 "data": {"name": "p1"},
 "mark": {"type": "line", "strokeWidth": 1.6},
 "encoding": {
   "x": {"field": "w", "type": "quantitative", "scale": {"domain": [0.5, 52.5], "range": [50, 320], "nice": false, "zero": false},
         "axis": {"title": null, "values": [1,4,7,10,13,16,19,22,25,28,31,34,37,40,43,46,49,52], "labelAngle": 90, "labelPadding": 2, "labelOverlap": false, "labelFlush": false}},
   "y": {"field": "v", "type": "quantitative", "scale": {"domain": [0, 12000], "nice": false},
         "axis": {"values": [0,2000,4000,6000,8000,10000,12000], "format": ",.0f", "labelOverlap": false, "labelFlush": false, "offset": -50, "labelPadding": 8, "tickSize": 3, "title": "万平方米", "titleAngle": 0, "titleAlign": "left", "titleBaseline": "middle", "titleX": -29, "titleY": -14}},
   "color": {"field": "s", "type": "nominal", "scale": {"domain": ["2019","2020","2021","2022","2023"], "range": ["#EE8636","#F5B93C","#8C8C8C","#20ACE0","#E31E24"]},
     "legend": {"title": null, "orient": "none", "legendX": 66, "legendY": -25, "direction": "horizontal", "symbolType": "stroke", "symbolSize": 225, "symbolStrokeWidth": 2, "labelFont": "Liberation Sans", "labelFontSize": 10, "labelFontWeight": "bold", "labelColor": "#262626", "labelOffset": 2, "columnPadding": 5}}
 }},
{"width": 323, "height": 146,
 "data": {"name": "p2"},
 "mark": {"type": "line", "strokeWidth": 1.6, "interpolate": "monotone"},
 "encoding": {
   "x": {"field": "w", "type": "quantitative", "scale": {"domain": [0.5, 52.5], "range": [33, 316], "nice": false, "zero": false},
         "axis": {"title": null, "values": [1,4,7,10,13,16,19,22,25,28,31,34,37,40,43,46,49,52], "labelAngle": 90, "labelPadding": 2, "labelOverlap": false, "labelFlush": false}},
   "y": {"field": "v", "type": "quantitative", "scale": {"domain": [0, 35], "nice": false},
         "axis": {"values": [0,5,10,15,20,25,30,35], "labelOverlap": false, "labelBound": false, "offset": -33, "labelPadding": 8, "tickSize": 3, "title": "%", "titleAngle": 0, "titleAlign": "left", "titleBaseline": "middle", "titleX": -5, "titleY": -10}},
   "color": {"field": "s", "type": "nominal", "scale": {"domain": ["2018","2019","2021","2022","2023"], "range": ["#F5C242","#B01E23","#8C8C8C","#F0903C","#E31E24"]},
     "legend": {"title": null, "orient": "none", "legendX": 45, "legendY": -24, "direction": "horizontal", "symbolType": "stroke", "symbolSize": 300, "symbolStrokeWidth": 2, "labelFont": "Liberation Sans", "labelFontSize": 10, "labelFontWeight": "bold", "labelColor": "#262626", "labelOffset": 2, "columnPadding": 2}}
 }},
{"width": 320, "height": 25,
 "title": {"text": "资料来源：Wind，天风证券研究所", "subtitle": "注：周度数据，更新至 7 月 23 日", "orient": "bottom", "anchor": "start", "dx": 7, "offset": 6, "fontSize": 9.5, "fontWeight": "normal", "color": "#7F7F7F", "font": "Noto Sans CJK SC", "subtitleFont": "Noto Sans CJK SC", "subtitleFontSize": 9.5, "subtitleColor": "#7F7F7F", "subtitlePadding": 11},
 "data": {"values": [{}]}, "mark": {"type": "rule", "color": "#F4B183", "strokeWidth": 1.5},
 "encoding": {"x": {"datum": 0, "type": "quantitative", "scale": {"domain": [0, 1], "nice": false, "zero": false}, "axis": null}, "x2": {"datum": 1}, "y": {"datum": 0, "type": "quantitative", "scale": {"domain": [0, 1]}, "axis": null}}},
{"width": 323, "height": 25,
 "title": {"text": "资料来源：Wind，天风证券研究所", "subtitle": "注：周度数据，更新至 7 月 23 日", "orient": "bottom", "anchor": "start", "dx": 7, "offset": 6, "fontSize": 9.5, "fontWeight": "normal", "color": "#7F7F7F", "font": "Noto Sans CJK SC", "subtitleFont": "Noto Sans CJK SC", "subtitleFontSize": 9.5, "subtitleColor": "#7F7F7F", "subtitlePadding": 11},
 "data": {"values": [{}]}, "mark": {"type": "rule", "color": "#F4B183", "strokeWidth": 1.5},
 "encoding": {"x": {"datum": 0, "type": "quantitative", "scale": {"domain": [0, 1], "nice": false, "zero": false}, "axis": null}, "x2": {"datum": 1}, "y": {"datum": 0, "type": "quantitative", "scale": {"domain": [0, 1]}, "axis": null}}},
{"width": 320, "height": 102, "data": {"values": [{}]}, "mark": {"type": "point", "opacity": 0}, "encoding": {}},
{"width": 323, "height": 102, "data": {"values": [{}]}, "mark": {"type": "point", "opacity": 0}, "encoding": {}},
{"width": 320, "height": 22,
 "title": {"text": "图 9：30 大中城市商品房成交面积", "anchor": "start", "dx": 7, "offset": 4, "fontSize": 10, "fontWeight": "bold", "color": "#404040", "font": "Noto Sans CJK SC"},
 "data": {"values": [{}]}, "mark": {"type": "rule", "color": "#F4B183", "strokeWidth": 1},
 "encoding": {"x": {"datum": 0, "type": "quantitative", "scale": {"domain": [0, 1], "nice": false, "zero": false}, "axis": null}, "x2": {"datum": 1}, "y": {"datum": 1, "type": "quantitative", "scale": {"domain": [0, 1]}, "axis": null}}},
{"width": 323, "height": 22,
 "title": {"text": "图 10：城市二手房出售挂牌价指数", "anchor": "start", "dx": 7, "offset": 4, "fontSize": 10, "fontWeight": "bold", "color": "#404040", "font": "Noto Sans CJK SC"},
 "data": {"values": [{}]}, "mark": {"type": "rule", "color": "#F4B183", "strokeWidth": 1},
 "encoding": {"x": {"datum": 0, "type": "quantitative", "scale": {"domain": [0, 1], "nice": false, "zero": false}, "axis": null}, "x2": {"datum": 1}, "y": {"datum": 1, "type": "quantitative", "scale": {"domain": [0, 1]}, "axis": null}}},
{"width": 320, "height": 167,
 "data": {"name": "p3"},
 "mark": {"type": "line", "strokeWidth": 1.6},
 "encoding": {
   "x": {"field": "w", "type": "quantitative", "scale": {"domain": [0.5, 52.5], "range": [29, 313], "nice": false, "zero": false},
         "axis": {"title": null, "values": [1,3,5,7,9,11,13,15,17,19,21,23,25,27,29,31,33,35,37,39,41,43,45,47,49,51], "labelAngle": 0, "labelPadding": 2, "labelOverlap": false, "labelFlush": false, "labelBound": false}},
   "y": {"field": "v", "type": "quantitative", "scale": {"domain": [0, 700], "nice": false},
         "axis": {"values": [0,100,200,300,400,500,600,700], "labelOverlap": false, "offset": -29, "labelPadding": 3, "tickSize": 3, "title": "万平方米", "titleAngle": 0, "titleAlign": "left", "titleBaseline": "middle", "titleX": -11, "titleY": -10}},
   "color": {"field": "s", "type": "nominal", "scale": {"domain": ["2018","2019","2020","2021","2022","2023"], "range": ["#F08A3C","#F7C19B","#AE1C22","#8C8C8C","#23B0E6","#E31E24"]},
     "legend": {"title": null, "orient": "none", "legendX": 64, "legendY": -19, "direction": "horizontal", "columns": 3, "symbolType": "stroke", "symbolSize": 320, "symbolStrokeWidth": 2, "labelFont": "Liberation Sans", "labelFontSize": 10, "labelColor": "#404040", "labelOffset": 2, "columnPadding": 30, "rowPadding": 4}}
 }},
{"width": 323, "height": 146,
 "layer": [
  {"data": {"name": "p4"},
   "mark": {"type": "line", "strokeWidth": 1.5},
   "encoding": {
     "x": {"field": "d", "type": "temporal", "scale": {"domain": ["2015-06-25", "2023-07-20"], "range": [44, 306], "nice": false},
           "axis": {"title": null, "format": "%Y-%m", "labelAngle": -45, "labelPadding": 2, "labelOverlap": false, "labelFlush": false,
                    "values": [{"year":2015,"month":7,"date":1},{"year":2016,"month":7,"date":1},{"year":2017,"month":7,"date":1},{"year":2018,"month":7,"date":1},{"year":2019,"month":7,"date":1},{"year":2020,"month":7,"date":1},{"year":2021,"month":7,"date":1},{"year":2022,"month":7,"date":1},{"year":2023,"month":7,"date":1}]}},
     "y": {"field": "v", "type": "quantitative", "scale": {"domain": [100, 240], "nice": false, "zero": false},
           "axis": {"values": [100,120,140,160,180,200,220,240], "labelOverlap": false, "labelBound": false, "offset": -44, "labelPadding": 6, "tickSize": 3, "title": null}},
     "color": {"field": "s", "type": "nominal", "scale": {"domain": ["一线城市","二线城市","三线城市"], "range": ["#A6192E","#F08A3C","#F9D58E"]},
       "legend": {"title": null, "orient": "none", "legendX": 70, "legendY": -17, "direction": "horizontal", "symbolType": "stroke", "symbolSize": 300, "symbolStrokeWidth": 2, "labelFont": "Noto Sans CJK SC", "labelFontSize": 7.5, "labelColor": "#404040", "labelOffset": 2, "columnPadding": 6}}
   }},
  {"data": {"values": [{}]},
   "mark": {"type": "text", "text": "2015年1月4日=100", "align": "left", "baseline": "middle", "fontSize": 9, "font": "Noto Sans CJK SC", "color": "#404040"},
   "encoding": {
     "x": {"datum": {"year": 2015, "month": 9, "date": 7}, "type": "temporal",
           "axis": {"title": null, "format": "%Y-%m", "labelAngle": -45, "labelPadding": 2, "labelOverlap": false, "labelFlush": false,
                    "values": [{"year":2015,"month":7,"date":1},{"year":2016,"month":7,"date":1},{"year":2017,"month":7,"date":1},{"year":2018,"month":7,"date":1},{"year":2019,"month":7,"date":1},{"year":2020,"month":7,"date":1},{"year":2021,"month":7,"date":1},{"year":2022,"month":7,"date":1},{"year":2023,"month":7,"date":1}]}},
     "y": {"datum": 233, "type": "quantitative",
           "axis": {"values": [100,120,140,160,180,200,220,240], "labelOverlap": false, "labelBound": false, "offset": -44, "labelPadding": 6, "tickSize": 3, "title": null}}}}
 ]},
{"width": 320, "height": 20,
 "title": {"text": "资料来源：Wind，天风证券研究所", "subtitle": "注：周度数据，更新至 7 月 23 日", "orient": "bottom", "anchor": "start", "dx": 7, "offset": 6, "fontSize": 9.5, "fontWeight": "normal", "color": "#7F7F7F", "font": "Noto Sans CJK SC", "subtitleFont": "Noto Sans CJK SC", "subtitleFontSize": 9.5, "subtitleColor": "#7F7F7F", "subtitlePadding": 11},
 "data": {"values": [{}]}, "mark": {"type": "rule", "color": "#F4B183", "strokeWidth": 1.5},
 "encoding": {"x": {"datum": 0, "type": "quantitative", "scale": {"domain": [0, 1], "nice": false, "zero": false}, "axis": null}, "x2": {"datum": 1}, "y": {"datum": 0, "type": "quantitative", "scale": {"domain": [0, 1]}, "axis": null}}},
{"width": 323, "height": 20,
 "title": {"text": "资料来源：Wind，天风证券研究所", "subtitle": "注：周度数据，更新至 7 月 16 日", "orient": "bottom", "anchor": "start", "dx": 7, "offset": 6, "fontSize": 9.5, "fontWeight": "normal", "color": "#7F7F7F", "font": "Noto Sans CJK SC", "subtitleFont": "Noto Sans CJK SC", "subtitleFontSize": 9.5, "subtitleColor": "#7F7F7F", "subtitlePadding": 11},
 "data": {"values": [{}]}, "mark": {"type": "rule", "color": "#F4B183", "strokeWidth": 1.5},
 "encoding": {"x": {"datum": 0, "type": "quantitative", "scale": {"domain": [0, 1], "nice": false, "zero": false}, "axis": null}, "x2": {"datum": 1}, "y": {"datum": 0, "type": "quantitative", "scale": {"domain": [0, 1]}, "axis": null}}}
],
"columns": 2,
"align": "each",
"bounds": "flush",
"spacing": {"row": 0, "column": 20}
}
